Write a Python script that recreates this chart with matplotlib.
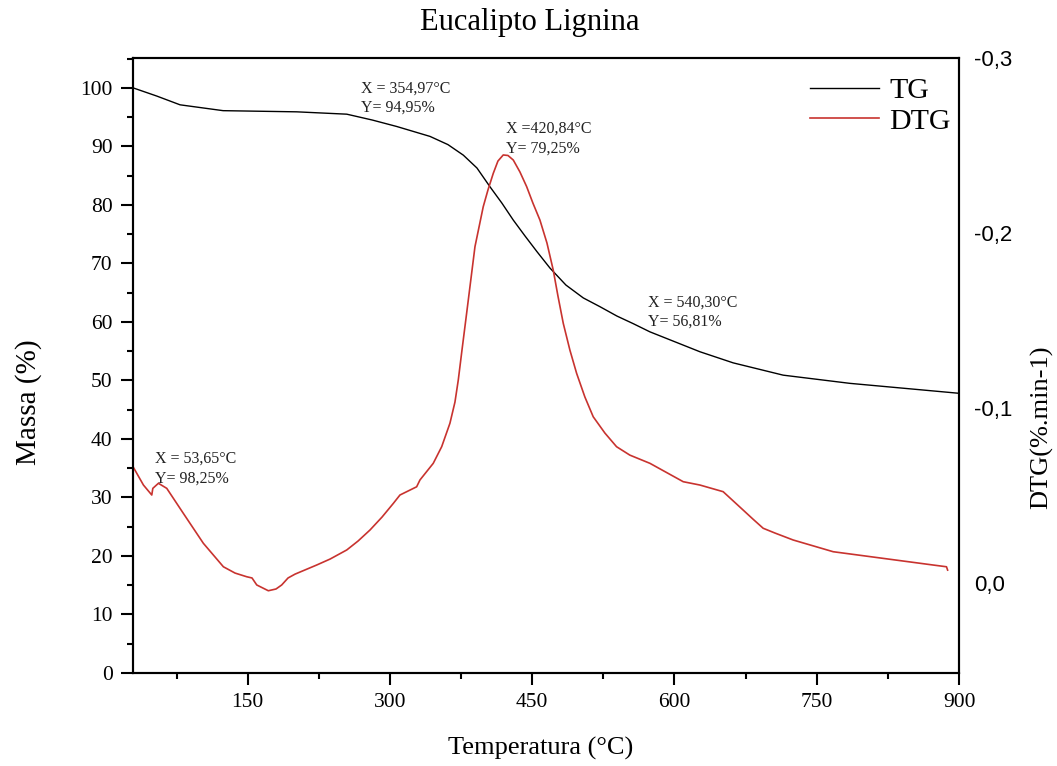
import matplotlib
matplotlib.use("Agg")
import matplotlib.pyplot as plt
from matplotlib.ticker import MultipleLocator, FixedLocator

# ---- data ----
tg_temp = [29, 54, 78.6, 124, 163, 201.7, 254.4, 281.3, 307, 342.2, 361.1,
           377.3, 391.7, 405.4, 418, 430, 442.3, 455, 468.7, 485.5, 503.8,
           521.4, 539.3, 556.5, 574.1, 626.8, 661.9, 714.6, 784.9, 900]
tg_mass = [100, 98.6, 97.1, 96.1, 96.0, 95.9, 95.5, 94.5, 93.4, 91.7, 90.3,
           88.5, 86.3, 83.1, 80.3, 77.4, 74.7, 72.0, 69.2, 66.3, 64.1,
           62.6, 61.0, 59.7, 58.3, 54.9, 53.0, 50.9, 49.5, 47.8]

dtg_temp = [29, 40.0, 48.8, 49.9, 55.8, 64.6, 82.1, 103.2, 124.3, 136.6, 148.9,
            154.5, 159.5, 171.7, 179.8, 185.8, 192.5, 199.9, 222.7, 236.8, 254.4,
            266.3, 278.9, 291.6, 303.5, 310.5, 328.1, 331.6, 345.6, 354.5, 363.2,
            368.5, 372.0, 375.9, 380.8, 389.6, 398.3, 403.3, 408.9, 413.8, 419.4,
            424.4, 430.0, 437.0, 444.1, 450.7, 458.1, 465.5, 472.1, 477.1, 482.7,
            489.7, 496.8, 505.5, 514.3, 526.6, 538.9, 552.9, 574.1, 609.2, 626.8,
            651.3, 672.4, 682.6, 693.5, 705.8, 725.1, 767.3, 820.0, 872.7, 886.8,
            888.0]
dtg_vals = [-0.0665, -0.0560, -0.0503, -0.0541, -0.0570, -0.0541, -0.0398, -0.0227,
            -0.0093, -0.0057, -0.0036, -0.0029, 0.0011, 0.0044, 0.0034, 0.0011,
            -0.0029, -0.0051, -0.0103, -0.0137, -0.0189, -0.0240, -0.0303, -0.0377,
            -0.0455, -0.0503, -0.0550, -0.0589, -0.0684, -0.0779, -0.0913, -0.1034,
            -0.1160, -0.1331, -0.1541, -0.1922, -0.2150, -0.2246, -0.2341, -0.2411,
            -0.2446, -0.2443, -0.2417, -0.2349, -0.2265, -0.2171, -0.2074, -0.1943,
            -0.1789, -0.1640, -0.1484, -0.1331, -0.1198, -0.1063, -0.0950, -0.0857,
            -0.0779, -0.0731, -0.0684, -0.0579, -0.0560, -0.0522, -0.0417, -0.0366,
            -0.0313, -0.0286, -0.0246, -0.0179, -0.0141, -0.0103, -0.0093, -0.0074]

annotations = ["X = 53,65°C\nY= 98,25%", "X = 354,97°C\nY= 94,95%",
               "X =420,84°C\nY= 79,25%", "X = 540,30°C\nY= 56,81%"]
annot_x = [52.3, 269.4, 422.3, 571.9]
annot_y = [38.0, 101.3, 94.4, 64.7]

x_ticks = [150, 300, 450, 600, 750, 900]
y_ticks = [0, 10, 20, 30, 40, 50, 60, 70, 80, 90, 100]
dtg_ticks = [0.0, -0.1, -0.2, -0.3]
dtg_ticklabels = ["0,0", "-0,1", "-0,2", "-0,3"]

SERIF = "Liberation Serif"
SANS = "Liberation Sans"
RED = "#c8332f"

fig = plt.figure(figsize=(10.57, 7.66), dpi=100)
ax = fig.add_axes([133/1057, 93/766, 826/1057, 615/766])

ax.plot(tg_temp, tg_mass, color="black", lw=1.0, label="TG")
ax.set_xlim(29, 900)
ax.set_ylim(0, 105.1)

ax2 = ax.twinx()
ax2.plot(dtg_temp, dtg_vals, color=RED, lw=1.2, label="DTG")
ax2.set_ylim(0.0514, -0.3)

# ticks
ax.xaxis.set_major_locator(FixedLocator(x_ticks))
ax.xaxis.set_minor_locator(MultipleLocator(75))
ax.yaxis.set_major_locator(FixedLocator(y_ticks))
ax.yaxis.set_minor_locator(MultipleLocator(5))
ax.tick_params(which="major", direction="out", length=8.6, width=1.5, pad=6,
               top=False, right=False)
ax.tick_params(which="minor", direction="out", length=4.5, width=1.5,
               top=False, right=False)
for lab in ax.get_xticklabels() + ax.get_yticklabels():
    lab.set_fontfamily(SERIF)
    lab.set_fontsize(15.5)

ax2.set_yticks(dtg_ticks)
ax2.set_yticklabels(dtg_ticklabels, fontfamily=SANS, fontsize=16)
ax2.tick_params(axis="y", length=0, pad=11)
ax2.yaxis.set_minor_locator(FixedLocator([]))

for a in (ax, ax2):
    for s in a.spines.values():
        s.set_linewidth(1.5)

# labels
ax.set_xlabel("Temperatura (°C)", fontfamily=SERIF, fontsize=19)
ax.xaxis.set_label_coords(0.493, -0.122)
ax.xaxis.label.set_va("center")
ax.set_ylabel("Massa (%)", fontfamily=SERIF, fontsize=21)
ax.yaxis.set_label_coords(-0.126, 0.44)
ax.yaxis.label.set_va("center")
ax2.set_ylabel("DTG(%.min-1)", fontfamily=SERIF, fontsize=19)
ax2.yaxis.set_label_coords(1.1, 0.40)
ax2.yaxis.label.set_va("center")

ax.set_title("Eucalipto Lignina", fontfamily=SERIF, fontsize=22, pad=20, x=0.48)

for txt, x, y in zip(annotations, annot_x, annot_y):
    ax.text(x, y, txt, fontfamily=SERIF, fontsize=11.5, ha="left", va="top",
            linespacing=1.3, color="#222222")

# legend
h1, l1 = ax.get_legend_handles_labels()
h2, l2 = ax2.get_legend_handles_labels()
leg = ax2.legend(h1 + h2, l1 + l2, loc="upper right", frameon=False,
                 prop={"family": SERIF, "size": 21.5}, handlelength=2.3,
                 handletextpad=0.35, labelspacing=0.12,
                 bbox_to_anchor=(1.008, 0.993), borderaxespad=0.1)

fig.savefig("out.png", dpi=100)
